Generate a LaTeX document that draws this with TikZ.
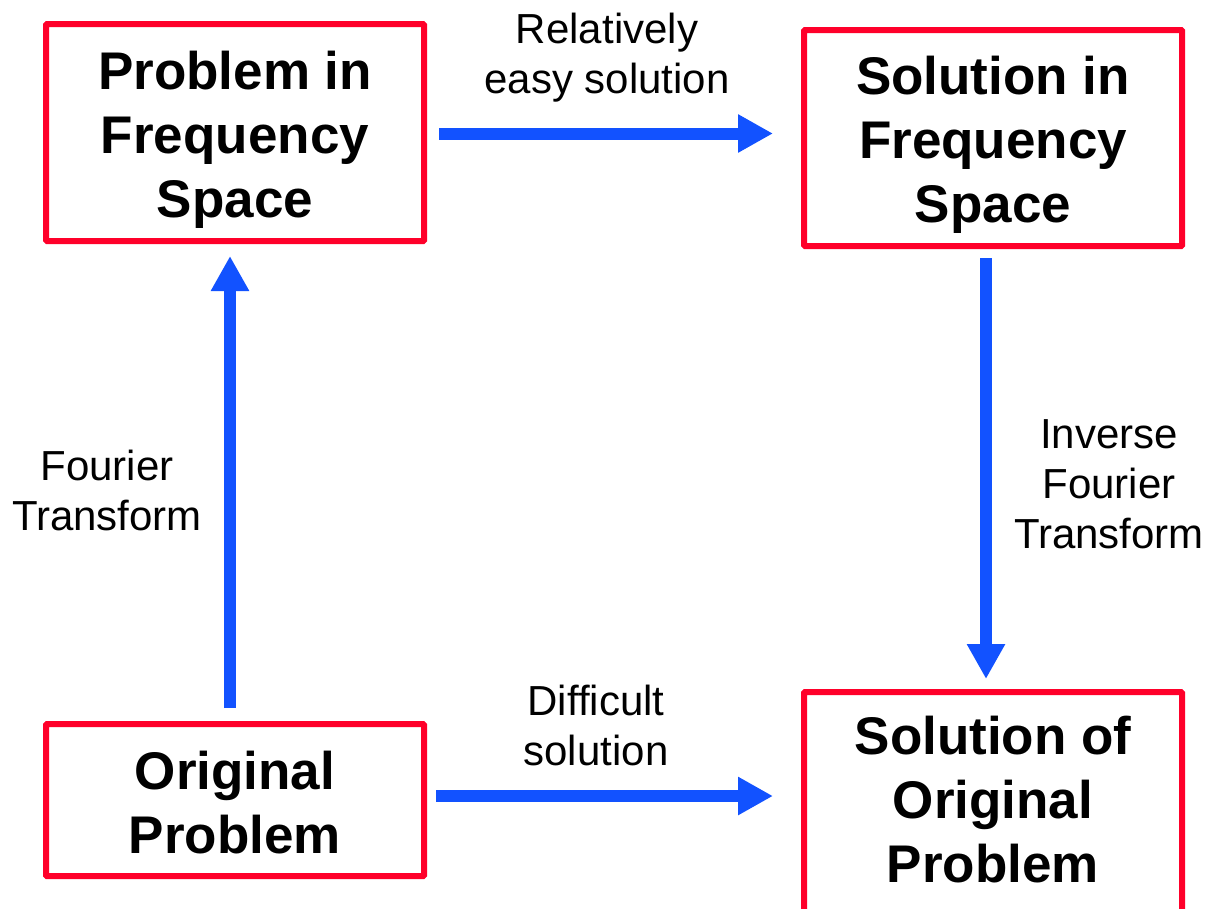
\documentclass[tikz,border=0pt]{standalone}
\usepackage{fontspec}
\setmainfont{Liberation Sans}
\usetikzlibrary{arrows.meta,calc}
\definecolor{boxred}{RGB}{255,0,42}
\definecolor{flowblue}{RGB}{18,82,255}
\begin{document}
\begin{tikzpicture}[x=1pt,y=-1pt,
  box/.style={draw=boxred, line width=6pt, minimum width=378pt, inner sep=0pt, rounded corners=1pt},
  boxtext/.style={font=\fontsize{53}{63.6}\selectfont\bfseries, align=center, anchor=base, inner sep=0pt},
  lbl/.style={font=\fontsize{42}{50}\selectfont, align=center, anchor=base, inner sep=0pt},
  flow/.style={draw=flowblue, line width=12pt, -{Triangle[length=35pt,width=36pt]}}]
\useasboundingbox (0,0) rectangle (1222,908);
\clip (0,0) rectangle (1222,908);
% boxes
\node[box, minimum height=217pt] (TL) at (235,132.5) {};
\node[box, minimum height=216pt] (TR) at (993,138) {};
\node[box, minimum height=152pt] (BL) at (235,800) {};
\node[box, minimum height=226pt] (BR) at (993,805) {};
% box texts (anchor = baseline of last line)
\node[boxtext] (TLt) at (235,217) {Problem in\\Frequency\\Space};
\node[boxtext] (TRt) at (993,222) {Solution in\\Frequency\\Space};
\node[boxtext] (BLt) at (235,853) {Original\\Problem};
\node[boxtext] (BRt) at (993,882) {Solution of\\Original\\Problem};
% connector ends
\coordinate (t1) at ($(TL.east)+(12,1)$);
\coordinate (t2) at ($(TR.west)+(-28,-4.5)$);
\coordinate (b1) at ($(BL.east)+(9,-4)$);
\coordinate (b2) at ($(BR.west)+(-28,-9)$);
\coordinate (l1) at ($(BL.north)+(-5,-13)$);
\coordinate (l2) at ($(TL.south)+(-5,12)$);
\coordinate (r1) at ($(TR.south)+(-7,9)$);
\coordinate (r2) at ($(BR.north)+(-7,-10)$);
% connectors
\draw[flow] (t1) -- (t2);
\draw[flow] (b1) -- (b2);
\draw[flow] (l1) -- (l2);
\draw[flow] (r1) -- (r2);
% labels
\node[lbl] (ltop) at (607,93) {Relatively\\easy solution};
\node[lbl] (lleft) at (107,530) {Fourier\\Transform};
\node[lbl] (lright) at (1109,548) {Inverse\\Fourier\\Transform};
\node[lbl] (lbot) at (596,765) {Difficult\\solution};
\end{tikzpicture}
\end{document}
